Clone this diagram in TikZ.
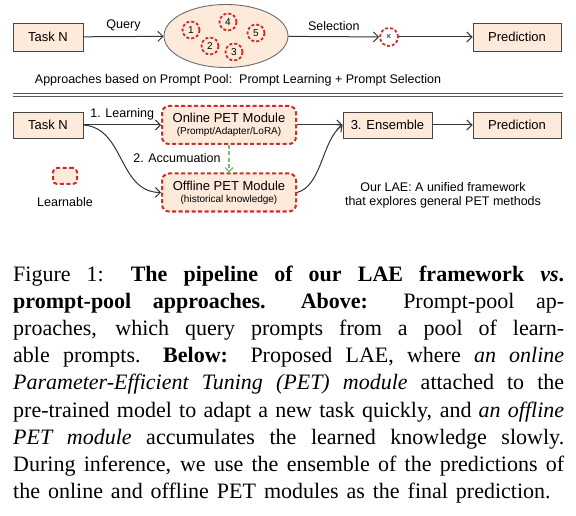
\documentclass[tikz,border=0pt]{standalone}
\usepackage{fontspec}
\setmainfont{Liberation Serif}
\newfontfamily\arialfont{Liberation Sans}
\usetikzlibrary{arrows.meta, shapes.geometric, positioning}
\definecolor{boxfill}{HTML}{FDEADA}
\definecolor{boxline}{HTML}{454545}
\definecolor{learnred}{HTML}{C9302C}
\definecolor{accugreen}{HTML}{6CC07A}

\begin{document}
\begin{tikzpicture}[x=1pt, y=-1pt,
    block/.style={rectangle, draw=boxline, fill=boxfill, line width=0.9pt, minimum width=70pt, minimum height=28pt, inner sep=0pt, font=\arialfont\fontsize{13}{15}\selectfont},
    learnbox/.style={rectangle, rounded corners=7pt, draw=learnred, fill=boxfill, line width=2pt, dash pattern=on 4pt off 2.5pt, minimum width=134pt, minimum height=38pt, inner sep=0pt, align=center, font=\arialfont\fontsize{13}{14}\selectfont},
    prompt/.style={circle, draw=learnred, line width=1.8pt, dash pattern=on 3pt off 2pt, minimum size=17pt, inner sep=0pt, font=\arialfont\fontsize{10}{11}\selectfont},
    arrow/.style={-{Straight Barb[length=5pt, width=10pt]}, line width=1pt, draw=black!80},
    lbl/.style={font=\arialfont\fontsize{12.5}{14}\selectfont},
    subtxt/.style={font=\arialfont\fontsize{10}{12}\selectfont}
]
\useasboundingbox (0,0) rectangle (576,516);

% prompt-pool pipeline
\node[block] (taskA) at (48,37) {Task N};
\node[ellipse, draw=boxline!80, fill=boxfill, line width=0.9pt, minimum width=124pt, minimum height=63pt] (pool) at (226,36) {};
\node[prompt] (p1) at (191,30) {1};
\node[prompt] (p2) at (210,46) {2};
\node[prompt] (p3) at (234,52) {3};
\node[prompt] (p4) at (228,22) {4};
\node[prompt] (p5) at (256,33) {5};
\node[prompt, minimum size=18pt, font=\arialfont\fontsize{7.5}{8}\selectfont] (topk) at (389,37) {κ};
\node[block, minimum width=88pt] (predA) at (517,37) {Prediction};
\node[lbl] (poolnote) at (238,80) {Approaches based on Prompt Pool:\ \ Prompt Learning + Prompt Selection};

\draw[arrow] (taskA) -- node[lbl, above=2pt] {Query} (pool);
\draw[arrow] (pool) -- node[lbl, above=2pt] {Selection} (topk);
\draw[arrow] (topk) -- (predA);

\draw[boxline!90, line width=0.8pt] (13,93.5) -- (563,93.5);
\draw[boxline!90, line width=0.8pt] (13,96.5) -- (563,96.5);

% LAE pipeline
\node[block, minimum height=26pt] (taskB) at (48,125) {Task N};
\node[learnbox] (online) at (229,125) {Online PET Module\\[-2pt]{\fontsize{10}{12}\selectfont(Prompt/Adapter/LoRA)}};
\node[learnbox] (offline) at (229,192.5) {Offline PET Module\\[-2pt]{\fontsize{10}{12}\selectfont(historical knowledge)}};
\node[block, minimum width=89pt, minimum height=26pt] (ensemble) at (387.5,125) {3. Ensemble};
\node[block, minimum width=88pt, minimum height=26pt] (predB) at (517,125) {Prediction};
\node[learnbox, minimum width=24pt, minimum height=16pt, rounded corners=4pt] (legend) at (65,176) {};
\node[lbl] (legendtxt) at (65,202) {Learnable};
\node[lbl] (acclabel) at (177,158) {2. Accumuation};
\node[lbl, align=center] (laenote) at (443,195.5) {Our LAE: A unified framework\\that explores general PET methods};

\draw[arrow] (taskB) -- node[lbl, above=1pt] {1. Learning} (online);
\draw[arrow] (taskB.east) .. controls (125,128) and (118,192) .. (offline.west);
\draw[arrow, draw=accugreen, line width=1.3pt, dash pattern=on 4pt off 2.5pt, -{Straight Barb[length=4pt, width=8pt]}] (online) -- (offline);
\draw[arrow] (online) -- (ensemble);
\draw[arrow] (offline.east) .. controls (322,186) and (322,140) .. (ensemble.west);
\draw[arrow] (ensemble) -- (predB);

% caption
\node[anchor=north west, inner sep=0pt] (caption) at (13,265.5) {\begin{minipage}{551pt}
\fontsize{22}{27.2}\selectfont
\hyphenpenalty=10000 \exhyphenpenalty=10000 \hbadness=10000 \hfuzz=30pt
\spaceskip=0.25em plus 0.2em minus 0.17em\relax
\xspaceskip=0.5em plus 0.3em minus 0.17em\relax
\parfillskip=8pt plus 10pt\relax
Figure 1: \textbf{The pipeline of our LAE framework \textit{vs}.}\linebreak
\textbf{prompt-pool approaches.} \textbf{Above:} Prompt-pool ap-\linebreak
proaches, which query prompts from a pool of learn-\linebreak
able prompts. \textbf{Below:} Proposed LAE, where \textit{an online}\linebreak
\textit{Parameter-Efficient Tuning (PET) module} attached to the\linebreak
pre-trained model to adapt a new task quickly, and \textit{an offline}\linebreak
\textit{PET module} accumulates the learned knowledge slowly.\linebreak
During inference, we use the ensemble of the predictions of\linebreak
the online and offline PET modules as the final prediction.\par
\end{minipage}};
\end{tikzpicture}
\end{document}
